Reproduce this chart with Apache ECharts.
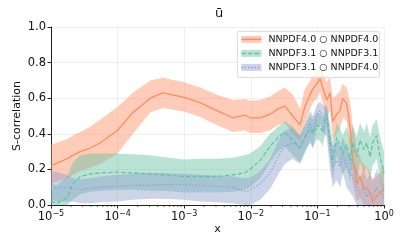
<!DOCTYPE html>
<html><head><meta charset="utf-8">
<script src="https://cdn.jsdelivr.net/npm/echarts@6/dist/echarts.min.js"></script>
<style>html,body{margin:0;padding:0;background:#fff}#c{width:407px;height:250px}</style>
</head><body><div id="c"></div>
<script>
// x grid as log10(x)
const logX = [-5.0,-4.91,-4.76,-4.67,-4.56,-4.41,-4.26,-4.0,-3.77,-3.51,-3.32,-3.0,-2.76,-2.51,-2.27,-2.09,-2.01,-1.86,-1.71,-1.59,-1.49,-1.37,-1.26,-1.19,-1.11,-1.07,-1.01,-0.96,-0.92,-0.86,-0.81,-0.77,-0.71,-0.66,-0.62,-0.56,-0.51,-0.47,-0.41,-0.36,-0.30,-0.26,-0.21,-0.17,-0.11,-0.06,0.0];

const nn40Mid = [0.22,0.235,0.26,0.28,0.30,0.32,0.35,0.42,0.52,0.60,0.63,0.605,0.575,0.53,0.49,0.505,0.49,0.49,0.51,0.54,0.555,0.50,0.45,0.55,0.62,0.65,0.68,0.71,0.66,0.59,0.63,0.47,0.51,0.53,0.60,0.57,0.44,0.27,0.12,0.16,0.09,0.10,0.06,0.02,0.05,0.07,0.09];
const nn40Up  = [0.34,0.35,0.37,0.39,0.41,0.44,0.48,0.55,0.63,0.70,0.715,0.69,0.66,0.62,0.59,0.595,0.585,0.59,0.61,0.64,0.66,0.62,0.54,0.65,0.70,0.73,0.75,0.78,0.75,0.69,0.72,0.60,0.62,0.64,0.68,0.66,0.58,0.45,0.32,0.27,0.22,0.22,0.18,0.14,0.16,0.18,0.22];
const nn40Lo  = [0.12,0.13,0.15,0.17,0.19,0.21,0.23,0.29,0.40,0.52,0.545,0.525,0.495,0.45,0.41,0.42,0.405,0.405,0.42,0.45,0.46,0.40,0.36,0.45,0.54,0.57,0.60,0.63,0.57,0.49,0.53,0.36,0.40,0.43,0.49,0.47,0.30,0.12,0.02,0.04,0.0,0.0,0.0,0.0,0.0,0.0,0.0];

const nn31Mid = [0.02,0.01,0.04,0.12,0.16,0.175,0.18,0.185,0.18,0.175,0.17,0.16,0.16,0.16,0.17,0.18,0.20,0.25,0.33,0.38,0.41,0.365,0.32,0.38,0.43,0.40,0.45,0.44,0.41,0.515,0.365,0.25,0.38,0.33,0.29,0.34,0.25,0.35,0.27,0.365,0.31,0.35,0.27,0.35,0.39,0.27,0.18];
const nn31Up  = [0.12,0.11,0.16,0.24,0.28,0.29,0.29,0.29,0.285,0.28,0.27,0.255,0.26,0.26,0.265,0.28,0.29,0.33,0.40,0.44,0.47,0.44,0.39,0.45,0.50,0.48,0.52,0.51,0.49,0.57,0.45,0.35,0.46,0.43,0.39,0.44,0.37,0.45,0.38,0.46,0.41,0.46,0.38,0.45,0.48,0.38,0.30];
const nn31Lo  = [0.0,0.0,0.0,0.03,0.06,0.075,0.08,0.085,0.085,0.08,0.08,0.07,0.07,0.07,0.075,0.085,0.10,0.15,0.24,0.30,0.33,0.28,0.24,0.30,0.35,0.32,0.37,0.36,0.33,0.44,0.26,0.14,0.28,0.22,0.17,0.22,0.13,0.23,0.14,0.24,0.18,0.22,0.14,0.22,0.26,0.15,0.04];

const mixMid = [0.10,0.095,0.10,0.095,0.085,0.095,0.10,0.105,0.11,0.11,0.115,0.115,0.11,0.105,0.10,0.075,0.085,0.12,0.18,0.27,0.33,0.35,0.32,0.38,0.46,0.41,0.50,0.53,0.49,0.48,0.31,0.215,0.25,0.215,0.29,0.215,0.18,0.16,0.10,0.065,0.10,0.045,0.075,0.045,0.10,0.075,0.03];
const mixUp  = [0.19,0.185,0.17,0.15,0.145,0.15,0.16,0.17,0.175,0.18,0.18,0.175,0.17,0.165,0.16,0.15,0.155,0.19,0.26,0.36,0.42,0.43,0.39,0.45,0.53,0.50,0.56,0.58,0.56,0.55,0.40,0.33,0.36,0.32,0.38,0.32,0.28,0.26,0.20,0.16,0.20,0.14,0.17,0.14,0.20,0.17,0.10];
const mixLo  = [0.03,0.02,0.02,0.02,0.01,0.01,0.015,0.02,0.03,0.035,0.035,0.03,0.02,0.015,0.01,0.0,0.0,0.03,0.09,0.17,0.23,0.26,0.23,0.29,0.36,0.32,0.42,0.46,0.41,0.38,0.20,0.10,0.14,0.10,0.18,0.10,0.07,0.05,0.0,0.0,0.0,0.0,0.0,0.0,0.0,0.0,0.0];

const seriesNames = ['NNPDF4.0 ○ NNPDF4.0','NNPDF3.1 ○ NNPDF3.1','NNPDF3.1 ○ NNPDF4.0'];
const colors = ['#fc8d62','#66c2a5','#8da0cb'];
const yTicks = [0.0,0.2,0.4,0.6,0.8,1.0];

const xs = logX.map(e => Math.pow(10, e));
const FONT = 'DejaVu Sans';
const TXT = '#111';

function band(lo, up, color){
  return {
    type:'custom', clip:true, silent:true,
    data: xs.map((x,i)=>[x, up[i], lo[i]]),
    encode:{x:0,y:[1,2]},
    renderItem: function(params, api){
      if(params.dataIndex!==0) return;
      const pts=[];
      for(let i=0;i<xs.length;i++) pts.push(api.coord([xs[i], up[i]]));
      for(let i=xs.length-1;i>=0;i--) pts.push(api.coord([xs[i], lo[i]]));
      return {type:'polygon', shape:{points:pts}, style:{fill:color, opacity:0.45}};
    }
  };
}
function line(mid, color, dash){
  return {type:'line', data: xs.map((x,i)=>[x, mid[i]]), showSymbol:false, silent:true,
    lineStyle:{color:color, width:1.3, type:dash}, z:3};
}
// minor ticks of log axis (decoration)
const minor=[];
for(let d=-5; d<0; d++) for(let k=2;k<=9;k++) minor.push([k*Math.pow(10,d),0]);

const chart = echarts.init(document.getElementById('c'), null, {renderer:'canvas'});
const legendRows = seriesNames.map((n,i)=>{
  const y = 8 + i*14;
  const dash = i===0? null : (i===1? [4.5,2] : [1.3,2]);
  return [
    {type:'rect', z:12, shape:{x:4,y:y-3.5,width:20,height:7}, style:{fill:colors[i], opacity:0.45}},
    {type:'line', z:13, shape:{x1:4,y1:y,x2:24,y2:y}, style:{stroke:colors[i], lineWidth:1.5, lineDash:dash}},
    {type:'text', z:13, x:31, y:y, style:{text:n, fill:TXT, font:'9.5px "DejaVu Sans"', textVerticalAlign:'middle'}}
  ];
}).flat();

chart.setOption({
  animation:false,
  title:{text:'ū', left:214, top:2, textAlign:'center', textStyle:{fontFamily:FONT, fontSize:13, fontWeight:'normal', color:TXT}},
  grid:{left:51, right:23, top:27, bottom:45},
  xAxis:{type:'log', logBase:10, min:1e-5, max:1,
    name:'x', nameLocation:'middle', nameGap:19, nameMoveOverlap:false, nameTextStyle:{fontFamily:FONT, fontSize:11, color:TXT},
    axisLine:{show:true, lineStyle:{color:'#222', width:1}},
    axisTick:{show:true, length:3.5, lineStyle:{color:'#222'}},
    splitLine:{show:true, lineStyle:{color:'#ebebeb', width:0.8}},
    axisLabel:{fontFamily:FONT, fontSize:11.5, color:TXT, margin:5,
      formatter: v => '10{s|' + (Math.round(Math.log10(v))===0 ? '0' : '−'+Math.abs(Math.round(Math.log10(v)))) + '}',
      rich:{s:{fontFamily:FONT, fontSize:8, color:TXT, padding:[0,0,7,0]}}}
  },
  yAxis:{type:'value', min:0, max:1, interval:0.2,
    name:'S-correlation', nameLocation:'middle', nameGap:28, nameMoveOverlap:false, nameTextStyle:{fontFamily:FONT, fontSize:11, color:TXT},
    axisLine:{show:true, lineStyle:{color:'#222', width:1}},
    axisTick:{show:true, length:3.5, lineStyle:{color:'#222'}},
    splitLine:{show:true, lineStyle:{color:'#ebebeb', width:0.8}},
    axisLabel:{fontFamily:FONT, fontSize:11.5, color:TXT, margin:5, formatter: v => v.toFixed(1)}
  },
  series:[
    band(nn40Lo, nn40Up, colors[0]), line(nn40Mid, colors[0], 'solid'),
    band(nn31Lo, nn31Up, colors[1]), line(nn31Mid, colors[1], [4.5,2]),
    band(mixLo, mixUp, colors[2]), line(mixMid, colors[2], [1.3,2]),
    {type:'custom', clip:false, silent:true, data:minor, encode:{x:0,y:1}, z:4,
      renderItem:(p,api)=>{const c=api.coord([api.value(0),0]); return {type:'line', shape:{x1:c[0],y1:c[1],x2:c[0],y2:c[1]+2}, style:{stroke:'#222', lineWidth:0.7}};}}
  ],
  graphic:[
    {type:'group', left:237, top:31, z:10, children: [
      {type:'rect', z:10, shape:{x:0,y:0,width:142, height:46, r:2}, style:{fill:'rgba(255,255,255,0.85)', stroke:'#d0d0d0', lineWidth:0.8}}
    ].concat(legendRows)}
  ]
});
</script></body></html>
